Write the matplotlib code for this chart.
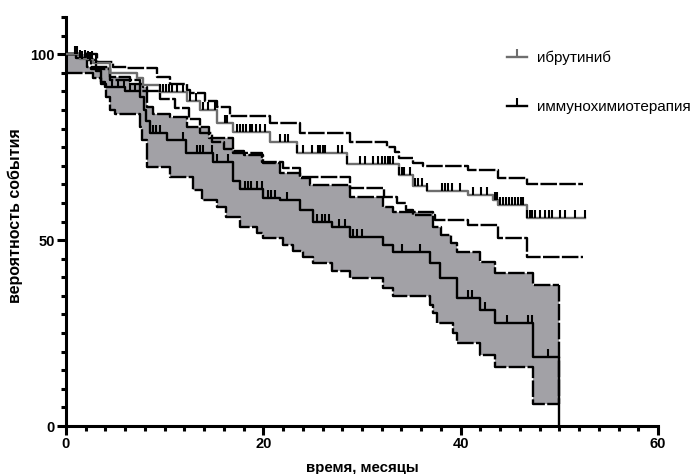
import matplotlib
matplotlib.use('Agg')
import matplotlib.pyplot as plt
from matplotlib.lines import Line2D
from matplotlib.path import Path
from matplotlib.ticker import MultipleLocator
import numpy as np

plt.rcParams['font.family'] = ['Liberation Sans', 'DejaVu Sans']
plt.rcParams['font.weight'] = 'bold'

# ibrutinib: Kaplan-Meier (months, %) and 95% CI, steps-post
ibr_t = [0, 1.4, 2.7, 4.5, 7.2, 7.8, 9.5, 12.3, 13.6, 15.3, 16.9, 20.7, 23.4,
         28.5, 33.8, 35.2, 36.6, 40.7, 43.3, 43.8, 46.7, 52.6]
ibr_s = [100, 98.8, 97.6, 94.9, 93.5, 91.7, 89.8, 87.5, 84.9, 81.4, 79.0, 76.4,
         73.5, 70.5, 67.5, 64.5, 63.3, 62.1, 60.8, 59.4, 56.0, 56.0]
ibr_up_t = [0, 3.1, 4.8, 6.2, 9.2, 10.5, 12.3, 12.6, 14.1, 15.3, 16.6, 20.7,
            23.7, 28.8, 32.5, 33.3, 33.8, 35.2, 36.2, 40.7, 43.8, 46.7, 52.4]
ibr_up_s = [100, 97.8, 96.5, 96.2, 93.8, 92.0, 90.3, 89.5, 87.5, 85.8, 83.3,
            81.4, 78.8, 76.4, 75.0, 73.6, 72.0, 70.7, 69.9, 68.8, 66.6, 65.0, 65.0]
ibr_lo_t = [0, 2.5, 4.5, 7.5, 9.5, 11.0, 12.5, 13.6, 14.8, 16.0, 16.9, 19.9,
            22.0, 23.7, 28.8, 32.2, 33.5, 34.5, 35.2, 37.4, 40.7, 43.8, 46.7, 52.4]
ibr_lo_s = [100, 96.0, 93.0, 90.0, 88.0, 85.5, 82.5, 78.8, 76.5, 74.5, 73.4,
            71.0, 69.4, 67.0, 64.0, 61.6, 60.0, 58.0, 56.7, 55.4, 54.0, 50.5,
            45.4, 45.4]
ibr_cens = [1.1, 1.6, 2.2, 2.6, 3.0, 9.5, 9.8, 10.1, 10.4, 10.7, 11.3, 11.9,
            12.6, 13.2, 13.9, 14.4, 15.1, 16.1, 16.3, 17.3, 17.6, 17.9, 18.2,
            18.6, 18.9, 19.3, 19.7, 20.2, 21.7, 22.2, 22.5, 23.4, 24.0, 24.9,
            25.5, 25.7, 26.0, 26.2, 27.6, 28.0, 28.5, 29.8, 30.3, 31.1, 31.6,
            32.0, 32.3, 32.6, 32.8, 33.1, 33.8, 34.1, 34.3, 34.9, 35.4, 35.7,
            36.1, 36.6, 38.1, 38.4, 38.7, 39.1, 39.9, 41.2, 42.1, 42.7, 43.5,
            43.7, 44.0, 44.3, 44.6, 44.9, 45.2, 45.5, 45.8, 46.1, 46.3, 46.7,
            47.0, 47.2, 47.5, 48.0, 48.5, 49.0, 49.3, 50.1, 50.6, 51.6, 52.6]

# immunochemotherapy: Kaplan-Meier and 95% CI
imm_t = [0, 1.0, 2.1, 3.0, 3.5, 4.0, 6.0, 7.5, 7.9, 8.1, 8.5, 10.2, 12.2, 14.9,
         16.9, 17.6, 20.0, 21.7, 23.7, 25.0, 27.0, 28.8, 32.1, 33.1, 36.9, 37.9,
         39.6, 42.0, 43.5, 47.3, 50.0]
imm_s = [100, 99.0, 98.4, 95.5, 92.5, 91.1, 90.0, 88.4, 85.0, 82.0, 78.8, 76.9,
         73.5, 71.0, 66.0, 63.7, 61.3, 60.8, 58.0, 54.8, 53.5, 50.8, 48.7, 46.8,
         43.8, 39.8, 34.4, 31.2, 27.7, 18.5, 0]
imm_up_t = [0, 2.1, 4.5, 6.5, 7.8, 8.2, 8.8, 10.5, 12.3, 14.5, 16.9, 18.0, 20.0,
            21.7, 23.7, 24.7, 28.8, 32.1, 33.1, 37.2, 38.0, 39.0, 39.6, 42.0,
            43.5, 47.3, 50.0]
imm_up_s = [100, 96.5, 93.8, 92.0, 91.1, 85.8, 84.0, 83.0, 80.4, 77.5, 74.0,
            73.0, 70.7, 68.0, 66.7, 64.8, 61.6, 58.9, 57.5, 53.5, 51.3, 49.2,
            46.8, 44.0, 41.1, 37.9, 37.9]
imm_lo_t = [0, 2.7, 3.5, 4.1, 4.5, 5.0, 7.5, 7.7, 8.2, 10.5, 12.9, 13.8, 15.3,
            16.2, 17.6, 19.4, 20.0, 22.0, 23.0, 24.0, 25.0, 27.0, 28.8, 32.1,
            33.1, 36.9, 37.2, 37.6, 39.2, 39.6, 42.0, 43.5, 47.3, 50.0]
imm_lo_s = [94.9, 93.5, 92.0, 88.4, 85.0, 84.0, 80.4, 76.9, 69.6, 67.0, 63.4,
            60.8, 58.9, 56.2, 53.5, 51.9, 50.5, 48.7, 47.0, 45.4, 43.8, 41.7,
            39.8, 37.1, 34.9, 32.5, 30.4, 27.7, 25.0, 22.3, 19.1, 15.9, 5.9, 5.9]
imm_cens = [0.9, 1.4, 1.9, 2.4, 4.7, 5.3, 5.9, 6.5, 7.0, 8.8, 9.1, 9.5, 11.9,
            13.3, 13.6, 13.9, 14.8, 15.3, 16.4, 18.1, 18.4, 18.8, 19.4, 19.9,
            20.5, 20.8, 21.2, 22.4, 25.4, 25.9, 26.3, 26.7, 27.7, 28.3, 28.8,
            29.1, 29.5, 30.0, 34.1, 35.9, 40.7, 41.1, 42.5, 44.7, 46.8, 47.2, 48.9]

labels = ['ибрутиниб', 'иммунохимиотерапия']


def step_at(times, vals, t):
    idx = np.searchsorted(times, t, side='right') - 1
    return np.asarray(vals)[np.clip(idx, 0, len(vals) - 1)]


GRAY_LINE = '#6e6e6e'
FILL = '#a2a1a6'
LW = 1.7
tick_marker = Path([(0, 0), (0, 1)], [Path.MOVETO, Path.LINETO])
dash = (0, (7, 1.0))

fig = plt.figure(figsize=(6.93, 4.74), dpi=100)
ax = fig.add_axes([66 / 693, 1 - 426 / 474, 592 / 693, 409 / 474])

# shaded CI for immunochemotherapy
grid = np.union1d(imm_up_t, imm_lo_t)
ax.fill_between(grid, step_at(imm_lo_t, imm_lo_s, grid),
                step_at(imm_up_t, imm_up_s, grid), step='post',
                color=FILL, lw=0, zorder=1)
ax.step(imm_up_t, imm_up_s, where='post', color='black', lw=LW, ls=dash, zorder=2)
ax.step(imm_lo_t, imm_lo_s, where='post', color='black', lw=LW, ls=dash, zorder=2)
ax.plot([imm_up_t[-1], imm_lo_t[-1]], [imm_up_s[-1], imm_lo_s[-1]],
        color='black', lw=LW, ls=dash, zorder=2)

# ibrutinib CI
ax.step(ibr_up_t, ibr_up_s, where='post', color='black', lw=LW, ls=dash, zorder=2)
ax.step(ibr_lo_t, ibr_lo_s, where='post', color='black', lw=LW, ls=dash, zorder=2)

# KM curves
ax.step(imm_t, imm_s, where='post', color='black', lw=LW, zorder=3)
ax.step(ibr_t, ibr_s, where='post', color=GRAY_LINE, lw=LW, zorder=3)

ax.plot(imm_cens, step_at(imm_t, imm_s, imm_cens), ls='none',
        marker=tick_marker, ms=11, mew=1.5, mec='black', zorder=4)
ax.plot(ibr_cens, step_at(ibr_t, ibr_s, ibr_cens), ls='none',
        marker=tick_marker, ms=11, mew=1.5, mec='black', zorder=4)

ax.set_xlim(0, 60)
ax.set_ylim(0, 110)
ax.xaxis.set_major_locator(MultipleLocator(20))
ax.xaxis.set_minor_locator(MultipleLocator(2))
ax.set_yticks([0, 50, 100])
ax.yaxis.set_minor_locator(MultipleLocator(5))
for s in ['top', 'right']:
    ax.spines[s].set_visible(False)
for s in ['left', 'bottom']:
    ax.spines[s].set_linewidth(2.2)
ax.tick_params(which='both', direction='out', width=2.2)
ax.tick_params(which='major', length=6.5, labelsize=10.5, pad=1.5)
ax.tick_params(which='minor', length=3.8)

ax.set_xlabel('время, месяцы', fontsize=10.8, fontweight='bold')
ax.set_ylabel('вероятность события', fontsize=11.5, fontweight='bold')
ax.xaxis.set_label_coords(0.5, -0.085)
ax.yaxis.set_label_coords(-0.073, 0.515)

handles = [
    Line2D([], [], color=GRAY_LINE, lw=LW, marker=tick_marker, ms=11,
           mew=1.5, mec=GRAY_LINE),
    Line2D([], [], color='black', lw=LW, marker=tick_marker, ms=11,
           mew=1.5, mec='black'),
]
fig.legend(handles, labels, loc='upper left', bbox_to_anchor=(499 / 693, 1 - 43 / 474),
           frameon=False, prop={'size': 11, 'weight': 'normal'}, borderpad=0,
           handlelength=1.3, handletextpad=0.7, labelspacing=2.3, numpoints=1)

fig.savefig('out.png', dpi=100)
